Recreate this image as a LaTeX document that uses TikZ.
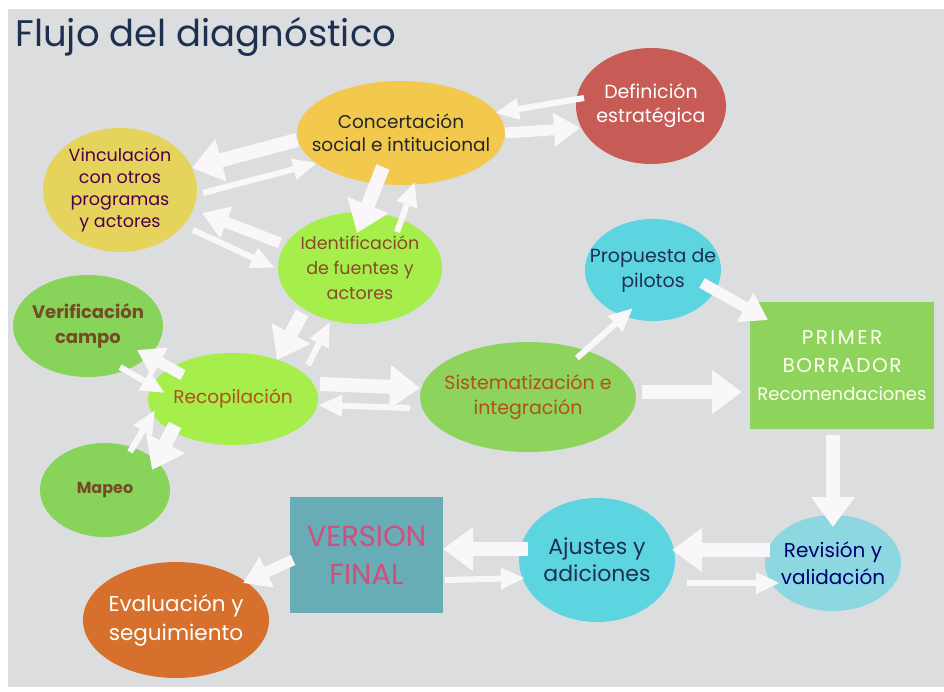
\documentclass[tikz,border=0pt]{standalone}
\usepackage{fontspec}
\setmainfont{Poppins}
\usetikzlibrary{arrows.meta,%
                shapes.geometric,%
                calc}

\definecolor{bggrey}{HTML}{DCDDDF}
\definecolor{arrowwhite}{HTML}{F9F7F9}
\definecolor{concyellow}{HTML}{F2C94C}
\definecolor{defired}{HTML}{C65C55}
\definecolor{vincyellow}{HTML}{E5D35B}
\definecolor{lightgreen}{HTML}{A6EE4C}
\definecolor{midgreen}{HTML}{88D35A}
\definecolor{boxgreen}{HTML}{8ED45C}
\definecolor{cyanblue}{HTML}{5DD5E0}
\definecolor{palecyan}{HTML}{8DD7E0}
\definecolor{tealbox}{HTML}{68ADB5}
\definecolor{evalorange}{HTML}{D6702C}
\definecolor{navytext}{HTML}{1E3050}
\definecolor{browntext}{HTML}{8A4A2A}
\definecolor{rusttext}{HTML}{B0501A}
\definecolor{pinktext}{HTML}{D24E7C}

\begin{document}
\begin{tikzpicture}[x=1pt, y=-1pt,
                    main node/.style={ellipse,inner sep=-30pt,align=center},
                    box node/.style={rectangle,inner sep=0pt,align=center},
                    big arrow/.style={draw=arrowwhite,line width=14pt,-{Triangle[length=30pt,width=42pt]}},
                    mid arrow/.style={draw=arrowwhite,line width=11pt,-{Triangle[length=26pt,width=32pt]}},
                    thin arrow/.style={draw=arrowwhite,line width=6pt,-{Triangle[length=24pt,width=20pt]}}]

  \useasboundingbox (0,0) rectangle (944,692);
  \fill[white] (0,0) rectangle (944,692);
  \fill[bggrey] (8,9) rectangle (944,687);

  \node[anchor=base west,text=navytext,font=\fontsize{37}{44}\selectfont] (0) at (12,47) {Flujo del diagnóstico};

  \node[main node,fill=concyellow,text=black!85,minimum width=208pt,minimum height=104pt,font=\fontsize{18.5}{23}\selectfont] (1) at (401,133) {Concertación\\social e intitucional};
  \node[main node,fill=defired,text=white,minimum width=150pt,minimum height=116pt,font=\fontsize{19}{24}\selectfont] (2) at (651,106) {Definición\\estratégica};
  \node[main node,fill=vincyellow,text=violet!60!black,minimum width=154pt,minimum height=124pt,font=\fontsize{17.5}{22}\selectfont] (3) at (120,190) {Vinculación\\con otros\\programas\\y actores};
  \node[main node,fill=lightgreen,text=browntext,minimum width=164pt,minimum height=112pt,font=\fontsize{17.5}{25}\selectfont] (4) at (360,268) {Identificación\\de fuentes y\\actores};
  \node[main node,fill=midgreen,text=brown!60!black,minimum width=150pt,minimum height=102pt,font=\fontsize{18}{25}\selectfont\bfseries] (5) at (88,326) {Verificación\\campo};
  \node[main node,fill=lightgreen,text=rusttext,minimum width=170pt,minimum height=92pt,font=\fontsize{18.5}{23}\selectfont] (6) at (233,399) {Recopilación};
  \node[main node,fill=midgreen,text=brown!60!black,minimum width=130pt,minimum height=94pt,font=\fontsize{16}{19}\selectfont\bfseries] (7) at (105,490) {Mapeo};
  \node[main node,fill=boxgreen,text=rusttext,minimum width=216pt,minimum height=110pt,font=\fontsize{19}{25}\selectfont] (8) at (528,397) {Sistematización e\\integración};
  \node[main node,fill=cyanblue,text=navytext,minimum width=136pt,minimum height=102pt,font=\fontsize{19}{25}\selectfont] (9) at (653,270) {Propuesta de\\pilotos};
  \node[box node,fill=boxgreen,text=white!94!yellow,minimum width=184pt,minimum height=127pt,font=\fontsize{18}{28}\selectfont] (10) at (842,365.5) {{\fontsize{20}{28}\selectfont\addfontfeature{LetterSpace=12}PRIMER}\\{\fontsize{20}{28}\selectfont\addfontfeature{LetterSpace=8}BORRADOR}\\Recomendaciones};
  \node[main node,fill=palecyan,text=blue!45!black,minimum width=136pt,minimum height=96pt,font=\fontsize{20}{27}\selectfont] (11) at (833,563) {Revisión y\\validación};
  \node[main node,fill=cyanblue,text=navytext,minimum width=156pt,minimum height=124pt,font=\fontsize{22}{27}\selectfont] (12) at (597,560) {Ajustes y\\adiciones};
  \node[box node,fill=tealbox,text=pinktext,minimum width=153pt,minimum height=116pt,font=\fontsize{29}{38}\selectfont] (13) at (366.5,555) {VERSION\\FINAL};
  \node[main node,fill=evalorange,text=white,minimum width=186pt,minimum height=116pt,font=\fontsize{21.5}{29}\selectfont] (14) at (176,620) {Evaluación y\\seguimiento};

  \path
    ($(1)+(-104,7)$)  edge[big arrow]  ($(3)+(72,-22)$)
    ($(3)+(83,3)$)    edge[thin arrow] ($(1)+(-84,30)$)
    ($(1)+(-18,34)$)  edge[big arrow]  ($(4)+(-3,-35)$)
    ($(4)+(37,-36)$)  edge[thin arrow] ($(1)+(14,49)$)
    ($(4)+(-80,-25)$) edge[mid arrow]  ($(3)+(82,23)$)
    ($(3)+(73,40)$)   edge[thin arrow] ($(4)+(-85,0)$)
    ($(2)+(-67,-8)$)  edge[thin arrow] ($(1)+(94,-20)$)
    ($(1)+(104,0)$)   edge[mid arrow]  ($(2)+(-71,22)$)
    ($(4)+(-58,45)$)  edge[big arrow]  ($(6)+(44,-39)$)
    ($(6)+(75,-34)$)  edge[thin arrow] ($(4)+(-30,54)$)
    ($(6)+(-50,-24)$) edge[mid arrow]  ($(5)+(49,24)$)
    ($(5)+(32,41)$)   edge[thin arrow] ($(6)+(-68,-6)$)
    ($(7)+(25,-38)$)  edge[thin arrow] ($(6)+(-78,11)$)
    ($(6)+(-58,26)$)  edge[big arrow]  ($(7)+(47,-20)$)
    ($(6)+(87,-15)$)  edge[big arrow]  ($(8)+(-108,-9)$)
    ($(8)+(-118,11)$) edge[thin arrow] ($(6)+(85,6)$)
    ($(8)+(49,-39)$)  edge[thin arrow] ($(9)+(-20,38)$)
    ($(9)+(49,13)$)   edge[mid arrow]  ($(10)+(-74,-45.5)$)
    ($(8)+(114,-5)$)  edge[big arrow]  ($(10)+(-100,26.5)$)
    ($(10)+(-9,69.5)$) edge[big arrow] ($(11)+(0,-36)$)
    ($(11)+(-63,-13)$) edge[big arrow] ($(12)+(75,-10)$)
    ($(12)+(90,23)$)  edge[thin arrow] ($(11)+(-53,20)$)
    ($(12)+(-69,-11)$) edge[big arrow] ($(13)+(76.5,-6)$)
    ($(13)+(78.5,25)$) edge[thin arrow] ($(12)+(-72,18)$)
    ($(13)+(-73.5,5)$) edge[mid arrow] ($(14)+(67,-37)$);
\end{tikzpicture}
\end{document}
